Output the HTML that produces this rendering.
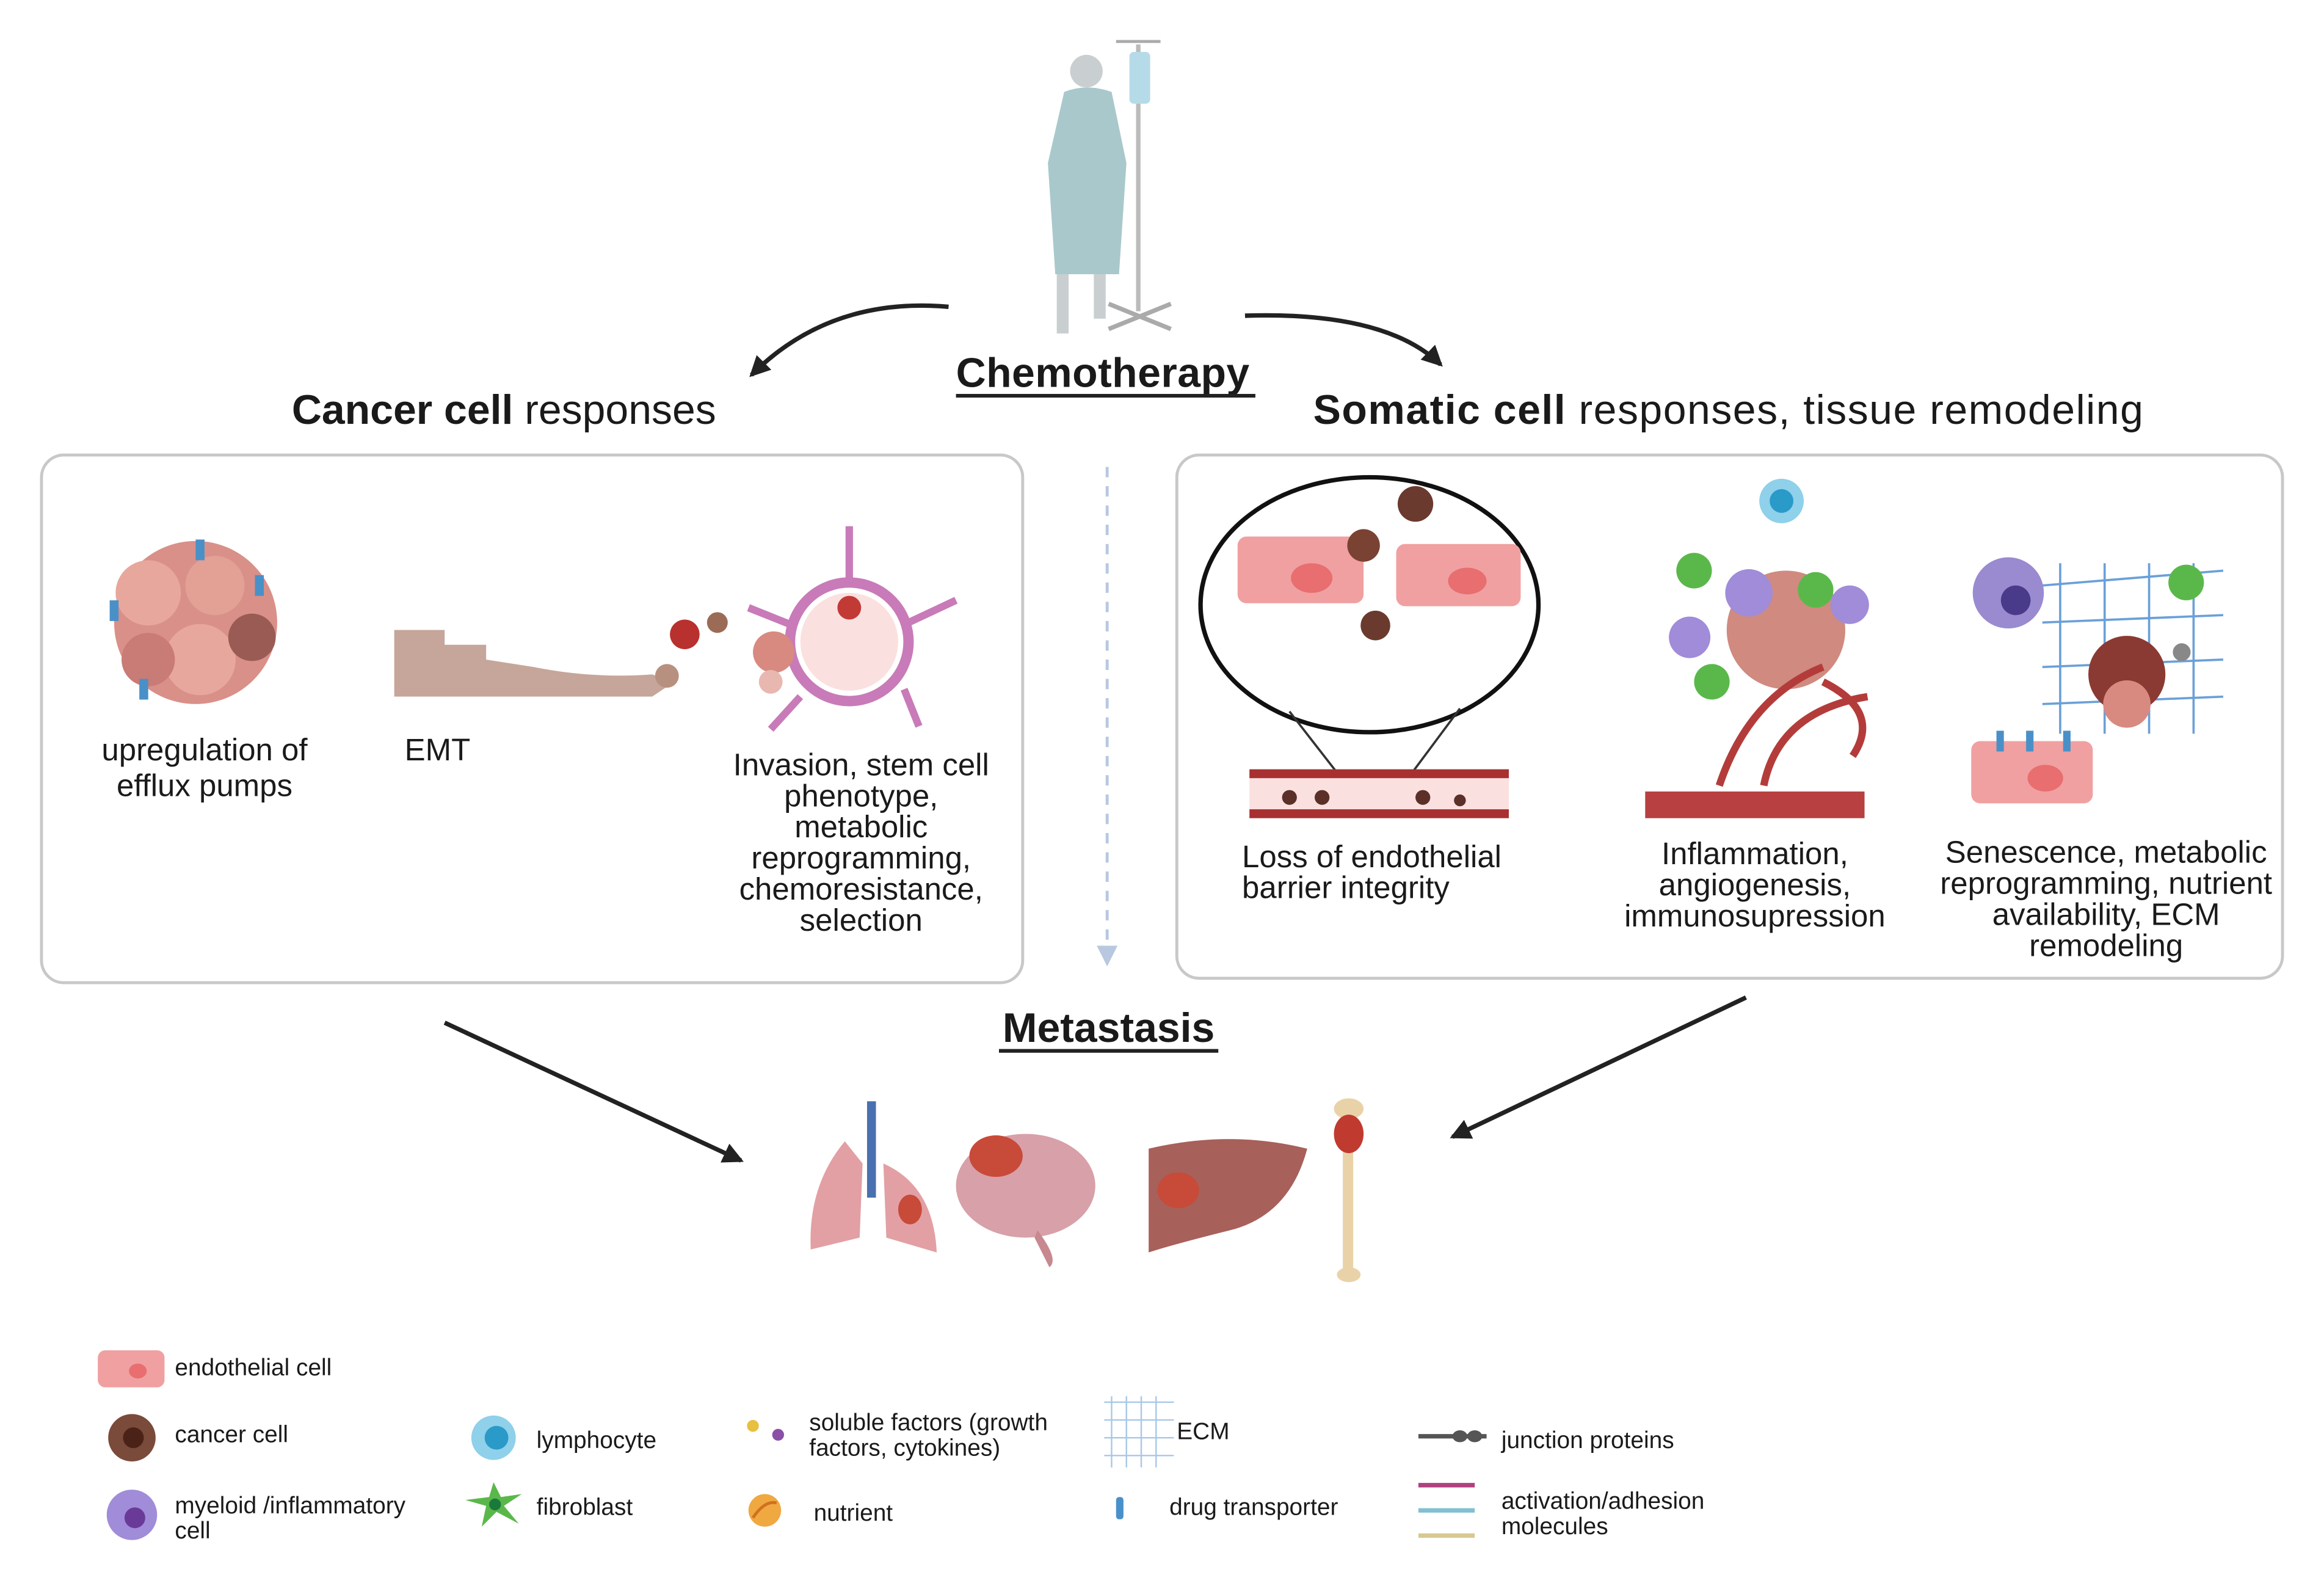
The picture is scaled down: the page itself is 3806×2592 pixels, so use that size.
<!DOCTYPE html>
<html><head><meta charset="utf-8"><style>
html,body{margin:0;padding:0;background:#fff;}
svg{display:block;}
text{font-family:"Liberation Sans",sans-serif;fill:#1a1a1a;}
</style></head><body>
<svg width="3806" height="2592" viewBox="0 0 1568 1068" preserveAspectRatio="none" xmlns="http://www.w3.org/2000/svg">
<defs>
<marker id="ah2" markerWidth="14" markerHeight="14" refX="12" refY="7" orient="auto" markerUnits="userSpaceOnUse"><path d="M0,0 L14,7 L0,14 z" fill="#222"/></marker>
<marker id="ahb" markerWidth="14" markerHeight="14" refX="12" refY="7" orient="auto" markerUnits="userSpaceOnUse"><path d="M0,0 L14,7 L0,14 z" fill="#b8c8e0"/></marker>
</defs>
<g>
<circle cx="733" cy="48" r="11" fill="#c9cfd0"/>
<path d="M718,62 Q733,56 750,62 L760,110 L755,185 L712,185 L707,110 Z" fill="#a9c8cc"/>
<rect x="713" y="185" width="8" height="40" fill="#c9cfd0"/><rect x="738" y="185" width="8" height="30" fill="#c9cfd0"/>
<line x1="768" y1="30" x2="768" y2="210" stroke="#bbb" stroke-width="3"/>
<line x1="753" y1="28" x2="783" y2="28" stroke="#aaa" stroke-width="2"/>
<rect x="762" y="35" width="14" height="35" rx="3" fill="#b6dbe8"/>
<path d="M748,205 L790,222 M790,205 L748,222" stroke="#aaa" stroke-width="3"/>
</g>
<path d="M640,207 Q560,200 507,253" fill="none" stroke="#222" stroke-width="3" marker-end="url(#ah2)"/>
<path d="M840,213 Q935,210 972,246" fill="none" stroke="#222" stroke-width="3" marker-end="url(#ah2)"/>
<text x="645" y="261" font-size="28" font-weight="bold" textLength="198">Chemotherapy</text>
<line x1="645" y1="267" x2="847" y2="267" stroke="#222" stroke-width="2.5"/>
<text x="340" y="286" font-size="28" text-anchor="middle"><tspan font-weight="bold">Cancer cell</tspan> responses</text>
<text x="886" y="286" font-size="28" textLength="560"><tspan font-weight="bold">Somatic cell</tspan> responses, tissue remodeling</text>
<rect x="28" y="307" width="662" height="356" rx="15" fill="none" stroke="#c8c8c8" stroke-width="2"/>
<rect x="794" y="307" width="746" height="353" rx="15" fill="none" stroke="#c8c8c8" stroke-width="2"/>
<line x1="747" y1="315" x2="747" y2="650" stroke="#b8c8e0" stroke-width="2" stroke-dasharray="7,6" marker-end="url(#ahb)"/>
<g>
<circle cx="132" cy="420" r="55" fill="#d99088"/>
<circle cx="100" cy="400" r="22" fill="#e8a79c"/><circle cx="145" cy="395" r="20" fill="#e3a095"/><circle cx="135" cy="445" r="24" fill="#e8a79c"/><circle cx="100" cy="445" r="18" fill="#c97b75"/><circle cx="170" cy="430" r="16" fill="#9b5b55"/>
<rect x="132" y="364" width="6" height="14" fill="#4a90c8"/><rect x="74" y="405" width="6" height="14" fill="#4a90c8"/><rect x="94" y="458" width="6" height="14" fill="#4a90c8"/><rect x="172" y="388" width="6" height="14" fill="#4a90c8"/>
<path d="M266,425 L300,425 L300,435 L328,435 L328,445 L360,450 Q400,458 440,455 L455,460 L440,470 L266,470 Z" fill="#c6a69a"/>
<circle cx="462" cy="428" r="10" fill="#b8312f"/><circle cx="484" cy="420" r="7" fill="#9b6b55"/><circle cx="450" cy="456" r="8" fill="#b89080"/>
<circle cx="573" cy="433" r="40" fill="none" stroke="#c87bb8" stroke-width="7"/><circle cx="573" cy="433" r="33" fill="#fbe0e0"/>
<circle cx="573" cy="410" r="8" fill="#c23a36"/>
<path d="M573,355 L573,393 M540,470 L520,492 M610,465 L620,490 M505,410 L535,422 M613,420 L645,405" stroke="#c87bb8" stroke-width="5"/>
<circle cx="522" cy="440" r="14" fill="#d88a80"/><circle cx="520" cy="460" r="8" fill="#e8b8b0"/>
</g>
<text font-size="21" text-anchor="middle"><tspan x="138" y="513">upregulation of</tspan><tspan x="138" y="537">efflux pumps</tspan></text>
<text x="273" y="513" font-size="21">EMT</text>
<text font-size="21" text-anchor="middle"><tspan x="581" y="523">Invasion, stem cell</tspan><tspan x="581" y="544">phenotype,</tspan><tspan x="581" y="565">metabolic</tspan><tspan x="581" y="586">reprogramming,</tspan><tspan x="581" y="607">chemoresistance,</tspan><tspan x="581" y="628">selection</tspan></text>
<g>
<ellipse cx="924" cy="408" rx="114" ry="86" fill="none" stroke="#111" stroke-width="3"/>
<line x1="870" y1="480" x2="905" y2="525" stroke="#333" stroke-width="1.5"/><line x1="985" y1="478" x2="950" y2="525" stroke="#333" stroke-width="1.5"/>
<rect x="835" y="362" width="85" height="45" rx="6" fill="#f0a0a0"/><ellipse cx="885" cy="390" rx="14" ry="10" fill="#e86e70"/>
<rect x="942" y="367" width="84" height="42" rx="6" fill="#f0a0a0"/><ellipse cx="990" cy="392" rx="13" ry="9" fill="#e86e70"/>
<circle cx="955" cy="340" r="12" fill="#6b3a2e"/><circle cx="920" cy="368" r="11" fill="#7a4232"/><circle cx="928" cy="422" r="10" fill="#6b3a2e"/>
<rect x="843" y="521" width="175" height="30" fill="#fbe0e0"/><rect x="843" y="519" width="175" height="6" fill="#a83030"/><rect x="843" y="546" width="175" height="6" fill="#a83030"/>
<circle cx="870" cy="538" r="5" fill="#5a3028"/><circle cx="892" cy="538" r="5" fill="#5a3028"/><circle cx="960" cy="538" r="5" fill="#5a3028"/><circle cx="985" cy="540" r="4" fill="#5a3028"/>
<circle cx="1202" cy="338" r="15" fill="#8fd0ea"/><circle cx="1202" cy="338" r="8" fill="#2a9ac8"/>
<circle cx="1205" cy="425" r="40" fill="#d08a80"/><circle cx="1180" cy="400" r="16" fill="#a08cd8"/><circle cx="1140" cy="430" r="14" fill="#a08cd8"/><circle cx="1248" cy="408" r="13" fill="#a08cd8"/>
<circle cx="1143" cy="385" r="12" fill="#5ab84a"/><circle cx="1225" cy="398" r="12" fill="#5ab84a"/><circle cx="1155" cy="460" r="12" fill="#5ab84a"/>
<path d="M1160,530 Q1180,470 1230,450 M1190,530 Q1200,480 1260,470 M1230,460 Q1270,480 1250,510" fill="none" stroke="#b33c3a" stroke-width="5"/>
<rect x="1110" y="534" width="148" height="18" fill="#b84040"/>
<circle cx="1355" cy="400" r="24" fill="#9a8ad0"/><circle cx="1360" cy="405" r="10" fill="#4a3a8a"/>
<path d="M1378,395 L1500,385 M1378,420 L1500,415 M1378,450 L1500,445 M1378,475 L1500,470 M1390,380 L1390,495 M1420,380 L1420,495 M1450,380 L1450,495 M1480,380 L1480,495" stroke="#6aa0d8" stroke-width="1.5" fill="none"/>
<circle cx="1435" cy="455" r="26" fill="#8a3a32"/><circle cx="1435" cy="475" r="16" fill="#d88a80"/>
<circle cx="1475" cy="393" r="12" fill="#5ab84a"/><circle cx="1472" cy="440" r="6" fill="#888"/>
<rect x="1330" y="500" width="82" height="42" rx="6" fill="#f0a0a0"/><ellipse cx="1380" cy="525" rx="12" ry="9" fill="#e86e70"/>
<rect x="1347" y="493" width="5" height="14" fill="#4a90c8"/><rect x="1367" y="493" width="5" height="14" fill="#4a90c8"/><rect x="1392" y="493" width="5" height="14" fill="#4a90c8"/>
</g>
<text font-size="21"><tspan x="838" y="585">Loss of endothelial</tspan><tspan x="838" y="606">barrier integrity</tspan></text>
<text font-size="21" text-anchor="middle"><tspan x="1184" y="583">Inflammation,</tspan><tspan x="1184" y="604">angiogenesis,</tspan><tspan x="1184" y="625">immunosupression</tspan></text>
<text font-size="21" text-anchor="middle"><tspan x="1421" y="582">Senescence, metabolic</tspan><tspan x="1421" y="603">reprogramming, nutrient</tspan><tspan x="1421" y="624">availability, ECM</tspan><tspan x="1421" y="645">remodeling</tspan></text>
<text x="748" y="703" font-size="28" font-weight="bold" text-anchor="middle">Metastasis</text>
<line x1="674" y1="709" x2="822" y2="709" stroke="#222" stroke-width="2.5"/>
<line x1="300" y1="690" x2="500" y2="783" stroke="#222" stroke-width="3" marker-end="url(#ah2)"/>
<line x1="1178" y1="673" x2="980" y2="767" stroke="#222" stroke-width="3" marker-end="url(#ah2)"/>
<path d="M570,770 Q545,800 547,843 L580,835 L582,785 Z M596,785 Q630,800 632,845 L598,835 Z" fill="#e2a0a4"/>
<rect x="585" y="743" width="6" height="65" fill="#4a70b0"/>
<ellipse cx="614" cy="816" rx="8" ry="10" fill="#c84a38"/>
<ellipse cx="692" cy="800" rx="47" ry="35" fill="#d8a0a8"/><path d="M700,830 Q715,850 708,855 L698,835 Z" fill="#c88890"/>
<ellipse cx="672" cy="780" rx="18" ry="14" fill="#c84a38"/>
<path d="M775,775 Q830,762 882,775 Q870,820 830,830 Q790,840 775,845 Z" fill="#a8605a"/>
<ellipse cx="795" cy="803" rx="14" ry="12" fill="#c84a38"/>
<rect x="906" y="760" width="7" height="100" fill="#ead2a8"/><ellipse cx="910" cy="748" rx="10" ry="7" fill="#ead2a8"/><ellipse cx="910" cy="860" rx="8" ry="5" fill="#ead2a8"/>
<ellipse cx="910" cy="765" rx="10" ry="13" fill="#c03a30"/>
<rect x="66" y="911" width="45" height="25" rx="5" fill="#f0a0a0"/><ellipse cx="93" cy="925" rx="6" ry="5" fill="#e86e70"/>
<text x="118" y="928" font-size="16">endothelial cell</text>
<circle cx="89" cy="970" r="16" fill="#7a4a3a"/><circle cx="90" cy="970" r="7" fill="#4a2218"/>
<text x="118" y="973" font-size="16">cancer cell</text>
<circle cx="89" cy="1022" r="17" fill="#a08cd8"/><circle cx="91" cy="1024" r="7" fill="#6a3a98"/>
<text font-size="16"><tspan x="118" y="1021">myeloid /inflammatory</tspan><tspan x="118" y="1038">cell</tspan></text>
<circle cx="333" cy="970" r="15" fill="#8fd0ea"/><circle cx="335" cy="970" r="8" fill="#2a9ac8"/>
<text x="362" y="977" font-size="16">lymphocyte</text>
<path d="M333,1000 L338,1010 L352,1008 L340,1016 L350,1028 L335,1020 L325,1030 L328,1016 L314,1012 L330,1010 Z" fill="#5ab84a"/><circle cx="334" cy="1015" r="4" fill="#1a7a3a"/>
<text x="362" y="1022" font-size="16">fibroblast</text>
<circle cx="508" cy="962" r="4" fill="#e8c040"/><circle cx="525" cy="968" r="4" fill="#8a50a8"/>
<text font-size="16"><tspan x="546" y="965">soluble factors (growth</tspan><tspan x="546" y="982">factors, cytokines)</tspan></text>
<circle cx="516" cy="1019" r="11" fill="#f0a840"/><path d="M508,1024 Q516,1012 524,1014" stroke="#d07020" stroke-width="2" fill="none"/>
<text x="549" y="1026" font-size="16">nutrient</text>
<path d="M745,946 L792,946 M745,958 L792,958 M745,970 L792,970 M745,982 L792,982 M750,942 L750,990 M760,942 L760,990 M770,942 L770,990 M780,942 L780,990" stroke="#a8c8e8" stroke-width="1"/>
<text x="794" y="971" font-size="16">ECM</text>
<rect x="753" y="1010" width="5" height="15" rx="2" fill="#4a90c8"/>
<text x="789" y="1022" font-size="16">drug transporter</text>
<line x1="957" y1="969" x2="1003" y2="969" stroke="#555" stroke-width="3"/><ellipse cx="985" cy="969" rx="5" ry="4" fill="#555"/><ellipse cx="995" cy="969" rx="5" ry="4" fill="#555"/>
<text x="1013" y="977" font-size="16">junction proteins</text>
<line x1="957" y1="1002" x2="995" y2="1002" stroke="#b04080" stroke-width="3"/>
<line x1="957" y1="1019" x2="995" y2="1019" stroke="#80c0d0" stroke-width="3"/>
<line x1="957" y1="1036" x2="995" y2="1036" stroke="#d8c890" stroke-width="3"/>
<text font-size="16"><tspan x="1013" y="1018">activation/adhesion</tspan><tspan x="1013" y="1035">molecules</tspan></text>
</svg>
</body></html>
